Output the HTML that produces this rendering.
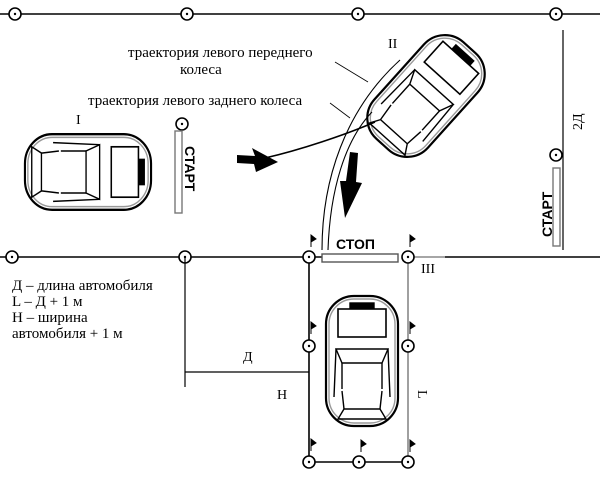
<!DOCTYPE html>
<html><head><meta charset="utf-8"><style>
html,body{margin:0;padding:0;background:#fff}
svg{display:block}
text{font-family:"Liberation Serif","DejaVu Serif",serif;fill:#000}
.s{font-family:"Liberation Sans",sans-serif;font-weight:bold}
</style></head><body>
<svg width="600" height="477" viewBox="0 0 600 477" xmlns="http://www.w3.org/2000/svg">
<defs>
<g id="p"><circle r="6" fill="#fff" stroke="#000" stroke-width="1.6"/><circle r="1.2" fill="#000"/></g>
<path id="f" d="M0 0 L0 -12 L5 -8 L0 -5" fill="#000" stroke="#000" stroke-width="1"/>
<g id="car" fill="none" stroke="#000" stroke-width="1.4">
<rect x="-36" y="-65" width="72" height="130" rx="28" stroke-width="2.2"/>
<rect x="-33" y="-62" width="66" height="124" rx="25" stroke="#999"/>
<rect x="-24" y="-52" width="48" height="28" stroke-width="1.6"/>
<rect x="-12" y="-58" width="24" height="5" fill="#000"/>
<path d="M-26 -12 L26 -12 L20 2 L-20 2 Z"/>
<path d="M-20 2 L-20 28 M20 2 L20 28 M-26 -12 L-28 36 M26 -12 L28 36"/>
<path d="M-18 48 L18 48 L24 58 L-24 58 Z"/>
<path d="M-20 30 L-18 48 M20 30 L18 48"/>
</g>
</defs>
<line x1="0" y1="14" x2="600" y2="14" stroke="#000" stroke-width="1.6"/>
<use href="#p" x="15" y="14"/><use href="#p" x="187" y="14"/><use href="#p" x="358" y="14"/><use href="#p" x="556" y="14"/>
<line x1="563" y1="30" x2="563" y2="250" stroke="#000" stroke-width="1.2"/>
<text x="0" y="0" font-size="14" transform="translate(582,130) rotate(-90)">2Д</text>
<use href="#p" x="556" y="155"/>
<rect x="553" y="168" width="7" height="78" fill="#fff" stroke="#777" stroke-width="1.4"/>
<text class="s" x="0" y="0" font-size="14" transform="translate(552,237) rotate(-90)">СТАРТ</text>
<line x1="0" y1="257" x2="322" y2="257" stroke="#000" stroke-width="1.6"/>
<line x1="408" y1="257" x2="445" y2="257" stroke="#888" stroke-width="1.6"/>
<line x1="445" y1="257" x2="600" y2="257" stroke="#000" stroke-width="1.6"/>
<rect x="322" y="254" width="76" height="8" fill="#fff" stroke="#555" stroke-width="1.4"/>
<text class="s" x="336" y="249" font-size="14">СТОП</text>
<text x="421" y="273" font-size="14">III</text>
<use href="#p" x="12" y="257"/><use href="#p" x="185" y="257"/>
<line x1="309" y1="257" x2="309" y2="462" stroke="#000" stroke-width="1.6"/>
<line x1="408" y1="257" x2="408" y2="462" stroke="#888" stroke-width="1.6"/>
<line x1="309" y1="462" x2="408" y2="462" stroke="#000" stroke-width="1.6"/>
<use href="#f" x="311" y="247"/><use href="#f" x="410" y="247"/>
<use href="#f" x="311" y="334"/><use href="#f" x="410" y="334"/>
<use href="#f" x="311" y="451"/><use href="#f" x="361" y="452"/><use href="#f" x="410" y="452"/>
<use href="#p" x="309" y="257"/><use href="#p" x="408" y="257"/>
<use href="#p" x="309" y="346"/><use href="#p" x="408" y="346"/>
<use href="#p" x="309" y="462"/><use href="#p" x="359" y="462"/><use href="#p" x="408" y="462"/>
<line x1="185" y1="257" x2="185" y2="387" stroke="#000" stroke-width="1.2"/>
<line x1="185" y1="372" x2="309" y2="372" stroke="#000" stroke-width="1.2"/>
<text x="243" y="361" font-size="14">Д</text>
<text x="277" y="399" font-size="14">Н</text>
<text x="0" y="0" font-size="14" transform="translate(418,390) rotate(90)">L</text>
<use href="#car" x="362" y="361"/>
<text font-size="15"><tspan x="12" y="290">Д – длина автомобиля</tspan><tspan x="12" y="306">L – Д + 1 м</tspan><tspan x="12" y="322">Н – ширина</tspan><tspan x="12" y="338">автомобиля + 1 м</tspan></text>
<use href="#car" transform="translate(88,172) rotate(90) scale(1.05,0.97)"/>
<text x="76" y="124" font-size="14">I</text>
<use href="#p" x="182" y="124"/>
<rect x="175" y="131" width="7" height="82" fill="#fff" stroke="#777" stroke-width="1.4"/>
<text class="s" x="0" y="0" font-size="14" transform="translate(185,146) rotate(90)">СТАРТ</text>
<use href="#car" transform="translate(426,96) rotate(42)"/>
<text x="388" y="48" font-size="14">II</text>
<path d="M322 250 C322 180 345 110 400 60" fill="none" stroke="#000" stroke-width="1.1"/>
<path d="M328 250 C330 190 345 140 372 112" fill="none" stroke="#000" stroke-width="1.1"/>
<path d="M265 158 C300 150 345 135 375 122" fill="none" stroke="#000" stroke-width="1.6"/>
<line x1="335" y1="62" x2="368" y2="82" stroke="#000" stroke-width="0.8"/>
<line x1="330" y1="103" x2="350" y2="118" stroke="#000" stroke-width="0.8"/>
<text font-size="15" x="128" y="57">траектория левого переднего</text>
<text font-size="15" x="180" y="74">колеса</text>
<text font-size="15" x="88" y="105">траектория левого заднего колеса</text>
<path d="M237 155 L255 156 L252 148 L278 162 L256 172 L254 164 L237 163 Z" fill="#000"/>
<path d="M350 152 L358 153 L356 182 L362 183 L345 218 L340 181 L346 181 Z" fill="#000"/>
</svg>
</body></html>
